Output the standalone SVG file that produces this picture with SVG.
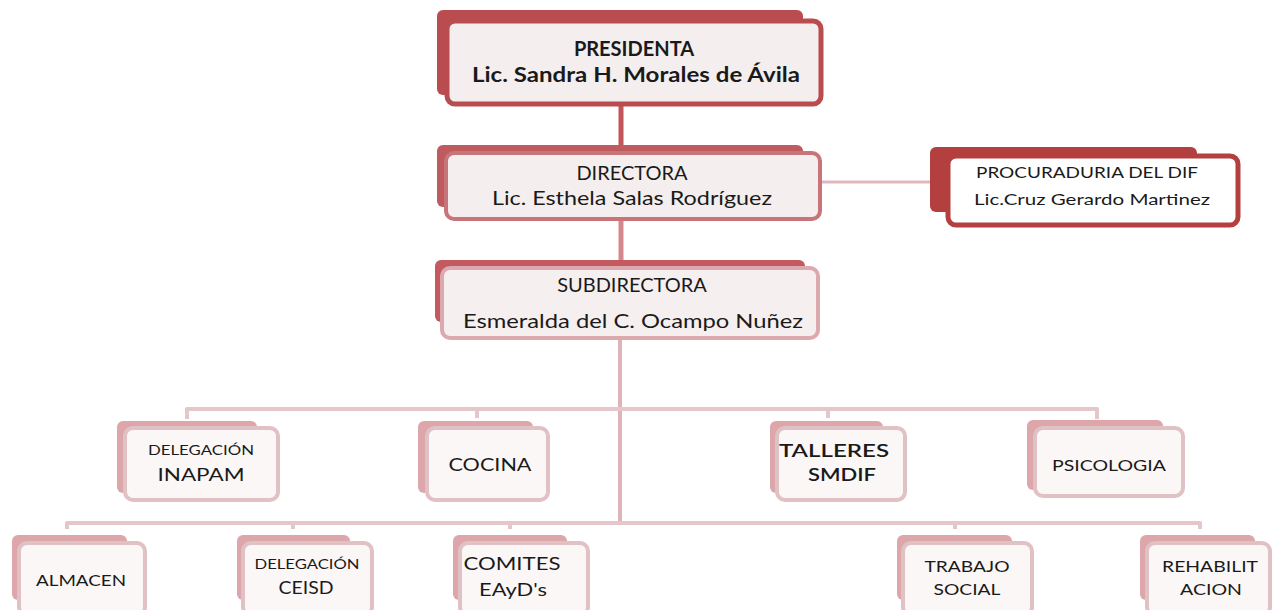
<svg xmlns="http://www.w3.org/2000/svg" width="1275" height="610" viewBox="0 0 1275 610">
<style>
text{font-family:Lato,"Open Sans","Liberation Sans",sans-serif;fill:#1a1a1a;text-anchor:middle}
.b1{fill:#b94c4f}
.f1{fill:#f4eeee;stroke:#b94c4f;stroke-width:5}
.b2{fill:#bf5a5e}
.f2{fill:#f5eeee;stroke:#c8757a;stroke-width:4}
.b3{fill:#b3403f}
.f3{fill:#ffffff;stroke:#b3403f;stroke-width:5}
.b4{fill:#c25a5f}
.f4{fill:#f6efef;stroke:#dba9ae;stroke-width:4}
.bl{fill:#dca6ab}
.fl{fill:#fbf7f7;stroke:#e0c2c5;stroke-width:4}
.big{font-size:20px;font-weight:600}
.med{font-size:18px}
.sm{font-size:13px}
.conn{fill:none;stroke-linejoin:round}
</style>
<rect width="1275" height="610" fill="#ffffff"/>
<g id="connectors" class="conn">
<line x1="621" y1="104" x2="621" y2="152" stroke="#c0555a" stroke-width="5"/>
<line x1="820" y1="182" x2="948" y2="182" stroke="#e2b7bb" stroke-width="3"/>
<line x1="621" y1="219" x2="621" y2="268" stroke="#d4888e" stroke-width="5"/>
<line x1="620" y1="338" x2="620" y2="523" stroke="#ddb5b9" stroke-width="4"/>
<path d="M187,419 V409 H1097 V419 M477,409 V418 M828,409 V418" stroke="#e5c6c9" stroke-width="4"/>
<path d="M67,529 V523 H1200 V529 M293,523 V529 M510,523 V529 M955,523 V529" stroke="#e5c6c9" stroke-width="4"/>
</g>
<g id="presidenta">
<rect class="b1" x="437" y="10" width="366" height="85" rx="6"/>
<rect class="f1" x="447" y="21" width="374" height="83" rx="8"/>
<text class="big" x="634" y="56" style="font-weight:700">PRESIDENTA</text>
<text class="big" x="636" y="82" style="font-weight:700" textLength="328" lengthAdjust="spacingAndGlyphs">Lic. Sandra H. Morales de Ávila</text>
</g>
<g id="directora">
<rect class="b2" x="437" y="145" width="366" height="62" rx="6"/>
<rect class="f2" x="446" y="153" width="374" height="66" rx="8"/>
<text class="big" x="632" y="180" style="font-weight:400">DIRECTORA</text>
<text class="big" x="632" y="205" style="font-weight:400" textLength="280" lengthAdjust="spacingAndGlyphs">Lic. Esthela Salas Rodríguez</text>
</g>
<g id="procuraduria">
<rect class="b3" x="930" y="147" width="267" height="65" rx="6"/>
<rect class="f3" x="948" y="156" width="290" height="69" rx="8"/>
<text x="1087" y="178" font-size="15" textLength="222" lengthAdjust="spacingAndGlyphs">PROCURADURIA DEL DIF</text>
<text x="1092" y="205" font-size="15" textLength="236" lengthAdjust="spacingAndGlyphs">Lic.Cruz Gerardo Martinez</text>
</g>
<g id="subdirectora">
<rect class="b4" x="435" y="260" width="370" height="62" rx="6"/>
<rect class="f4" x="442" y="268" width="376" height="70" rx="8"/>
<text class="big" x="632" y="292" style="font-weight:400">SUBDIRECTORA</text>
<text class="big" x="633" y="328" style="font-weight:400" textLength="340" lengthAdjust="spacingAndGlyphs">Esmeralda del C. Ocampo Nuñez</text>
</g>
<g id="inapam">
<rect class="bl" x="117" y="421" width="140" height="72" rx="6"/>
<rect class="fl" x="125" y="428" width="153" height="72" rx="8"/>
<text class="sm" x="201" y="455" textLength="106" lengthAdjust="spacingAndGlyphs">DELEGACIÓN</text>
<text class="med" x="201" y="481" textLength="87" lengthAdjust="spacingAndGlyphs">INAPAM</text>
</g>
<g id="cocina">
<rect class="bl" x="418" y="421" width="115" height="72" rx="6"/>
<rect class="fl" x="427" y="428" width="121" height="72" rx="8"/>
<text class="med" x="490" y="471" textLength="83" lengthAdjust="spacingAndGlyphs">COCINA</text>
</g>
<g id="talleres">
<rect class="bl" x="770" y="421" width="113" height="72" rx="6"/>
<rect class="fl" x="777" y="428" width="128" height="72" rx="8"/>
<text class="med" x="834" y="457" font-size="19" font-weight="600" textLength="110" lengthAdjust="spacingAndGlyphs">TALLERES</text>
<text class="med" x="842" y="481" font-size="19" font-weight="600" textLength="68" lengthAdjust="spacingAndGlyphs">SMDIF</text>
</g>
<g id="psicologia">
<rect class="bl" x="1027" y="420" width="136" height="70" rx="6"/>
<rect class="fl" x="1035" y="428" width="148" height="68" rx="8"/>
<text x="1109" y="471" font-size="16" textLength="114" lengthAdjust="spacingAndGlyphs">PSICOLOGIA</text>
</g>
<g id="almacen">
<rect class="bl" x="12" y="535" width="115" height="65" rx="6"/>
<rect class="fl" x="19" y="543" width="126" height="72" rx="8"/>
<text x="81" y="586" font-size="16" textLength="90" lengthAdjust="spacingAndGlyphs">ALMACEN</text>
</g>
<g id="ceisd">
<rect class="bl" x="237" y="535" width="113" height="65" rx="6"/>
<rect class="fl" x="243" y="543" width="129" height="72" rx="8"/>
<text class="sm" x="307" y="569" textLength="105" lengthAdjust="spacingAndGlyphs">DELEGACIÓN</text>
<text class="med" x="306" y="594" font-size="19" textLength="55" lengthAdjust="spacingAndGlyphs">CEISD</text>
</g>
<g id="comites">
<rect class="bl" x="453" y="535" width="114" height="65" rx="6"/>
<rect class="fl" x="460" y="543" width="128" height="72" rx="8"/>
<text class="med" x="512" y="570" font-size="19" textLength="97" lengthAdjust="spacingAndGlyphs">COMITES</text>
<text class="med" x="513" y="596" font-size="19" textLength="68" lengthAdjust="spacingAndGlyphs">EAyD's</text>
</g>
<g id="trabajo">
<rect class="bl" x="897" y="535" width="115" height="65" rx="6"/>
<rect class="fl" x="903" y="543" width="129" height="72" rx="8"/>
<text x="967" y="572" font-size="16" textLength="85" lengthAdjust="spacingAndGlyphs">TRABAJO</text>
<text x="967" y="595" font-size="16" textLength="67" lengthAdjust="spacingAndGlyphs">SOCIAL</text>
</g>
<g id="rehabilitacion">
<rect class="bl" x="1140" y="535" width="115" height="65" rx="6"/>
<rect class="fl" x="1147" y="543" width="123" height="72" rx="8"/>
<text x="1210" y="572" font-size="16" textLength="96" lengthAdjust="spacingAndGlyphs">REHABILIT</text>
<text x="1211" y="595" font-size="16" textLength="62" lengthAdjust="spacingAndGlyphs">ACION</text>
</g>
</svg>
